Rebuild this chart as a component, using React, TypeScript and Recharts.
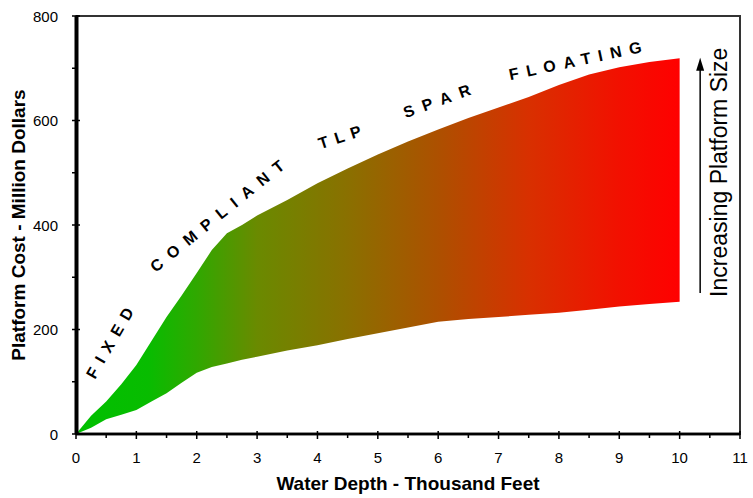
import { Area, AreaChart, Label, ReferenceArea, ReferenceDot, ReferenceLine, XAxis, YAxis } from 'recharts';

const depth = [0, 0.25, 0.5, 0.75, 1, 1.25, 1.5, 1.75, 2, 2.25, 2.5, 2.75, 3, 3.5, 4, 4.5, 5, 5.5, 6, 6.5, 7, 7.5, 8, 8.5, 9, 9.5, 10];
const highCost = [0, 35, 62, 95, 132, 178, 224, 265, 308, 352, 384, 400, 418, 448, 480, 508, 535, 560, 583, 605, 625, 645, 668, 688, 702, 712, 719];
const lowCost = [0, 12, 28, 37, 46, 62, 78, 98, 117, 128, 135, 142, 148, 160, 170, 182, 193, 204, 215, 220, 224, 228, 232, 238, 244, 249, 253];

const xTicks = [0, 0.5, 1, 1.5, 2, 2.5, 3, 3.5, 4, 4.5, 5, 5.5, 6, 6.5, 7, 7.5, 8, 8.5, 9, 9.5, 10, 10.5, 11];
const yTicks = [0, 100, 200, 300, 400, 500, 600, 700, 800];

// platform types written along the top of the band
const stageNames = ['FIXED', 'COMPLIANT', 'TLP', 'SPAR', 'FLOATING'];
const stageDepth = [0.56, 2.34, 4.37, 5.98, 8.27];
const stageCost = [174, 417, 568, 637, 714];
const stageAngle = [-60, -39, -18, -20, -12];
const stageSpacing = [7.9, 9, 6.9, 9, 7.8];

const data = depth.map((d, i) => ({ depth: d, range: [lowCost[i], highCost[i]] }));

const font = '"Liberation Sans", Arial, Helvetica, sans-serif';

// ticks drawn as small filled bars; majors cross the axis line
function XTick({ x, y, payload }: any) {
  const v = payload.value;
  const major = Number.isInteger(v);
  return (
    <g>
      <rect x={x - 0.75} y={major ? y - 3 : y} width={1.5} height={major ? 8 : 4} fill="#000" />
      {major && (
        <text x={x} y={y + 29} textAnchor="middle" fontSize={15} fontFamily={font} fill="#000">
          {v}
        </text>
      )}
    </g>
  );
}

function YTick({ x, y, payload }: any) {
  const v = payload.value;
  const major = v % 200 === 0;
  return (
    <g>
      <rect x={x - 4} y={y - 0.75} width={major ? 8 : 4} height={1.5} fill="#000" />
      {major && (
        <text x={x - 18} y={y + 5.5} textAnchor="end" fontSize={15} fontFamily={font} fill="#000">
          {v}
        </text>
      )}
    </g>
  );
}

// plot frame: heavy axes left/bottom, thinner border top/right
function Frame({ x, y, width, height }: any) {
  return (
    <g>
      <rect x={x} y={y - 1} width={width + 1} height={2} fill="#333" />
      <rect x={x + width - 1} y={y - 1} width={2} height={height + 2} fill="#333" />
      <rect x={x} y={y + height - 1.25} width={width} height={2.5} fill="#000" />
      <rect x={x - 0.5} y={y - 1} width={3} height={height + 2} fill="#000" />
    </g>
  );
}

export default function App() {
  return (
    <div style={{ position: 'absolute', top: 0, left: 0, width: 753, height: 498, background: '#fff' }}>
      <AreaChart width={753} height={498} data={data} margin={{ top: 16, right: 13, bottom: 0, left: 0 }}>
        <defs>
          <linearGradient id="depthFill" x1="0" y1="0" x2="1" y2="0">
            <stop offset="0%" stopColor="#00c000" />
            <stop offset="12%" stopColor="#08bc00" />
            <stop offset="20%" stopColor="#30a800" />
            <stop offset="30%" stopColor="#6a8a00" />
            <stop offset="45%" stopColor="#8a7000" />
            <stop offset="60%" stopColor="#ad5000" />
            <stop offset="75%" stopColor="#d83000" />
            <stop offset="90%" stopColor="#f21000" />
            <stop offset="100%" stopColor="#ff0000" />
          </linearGradient>
        </defs>
        <XAxis
          dataKey="depth"
          type="number"
          domain={[0, 11]}
          ticks={xTicks}
          interval={0}
          tickSize={0}
          tickMargin={0}
          tickLine={false}
          tick={<XTick />}
          axisLine={{ stroke: '#000', strokeWidth: 2.5 }}
          height={64}
        >
          <Label
            content={({ viewBox }: any) => (
              <text
                x={viewBox.x + viewBox.width / 2}
                y={viewBox.y + 56}
                textAnchor="middle"
                fontSize={19}
                fontWeight="bold"
                fontFamily={font}
                fill="#000"
              >
                Water Depth - Thousand Feet
              </text>
            )}
          />
        </XAxis>
        <YAxis
          type="number"
          domain={[0, 800]}
          ticks={yTicks}
          interval={0}
          tickSize={0}
          tickMargin={0}
          tickLine={false}
          tick={<YTick />}
          axisLine={{ stroke: '#000', strokeWidth: 3 }}
          width={76}
        >
          <Label
            content={({ viewBox }: any) => {
              const cx = viewBox.x + 25;
              const cy = viewBox.y + viewBox.height / 2;
              return (
                <text
                  x={cx}
                  y={cy}
                  transform={`rotate(-90 ${cx} ${cy})`}
                  textAnchor="middle"
                  fontSize={19}
                  fontWeight="bold"
                  fontFamily={font}
                  fill="#000"
                >
                  Platform Cost - Million Dollars
                </text>
              );
            }}
          />
        </YAxis>
        <Area
          dataKey="range"
          type="linear"
          fill="url(#depthFill)"
          fillOpacity={1}
          stroke="none"
          isAnimationActive={false}
        />
        <ReferenceArea x1={0} x2={11} y1={0} y2={800} shape={(p: any) => <Frame {...p} />} />
        {stageNames.map((name, i) => (
          <ReferenceDot
            key={name}
            x={stageDepth[i]}
            y={stageCost[i]}
            shape={(p: any) => (
              <text
                x={p.cx}
                y={p.cy}
                dx={stageSpacing[i] / 2}
                transform={`rotate(${stageAngle[i]} ${p.cx} ${p.cy})`}
                textAnchor="middle"
                dominantBaseline="central"
                fontSize={16}
                fontWeight="bold"
                fontFamily={font}
                letterSpacing={stageSpacing[i]}
                fill="#000"
              >
                {name}
              </text>
            )}
          />
        ))}
        <ReferenceLine
          segment={[
            { x: 10.34, y: 270 },
            { x: 10.34, y: 700 },
          ]}
          stroke="#000"
          strokeWidth={1.5}
        />
        <ReferenceDot
          x={10.34}
          y={720}
          shape={(p: any) => (
            <path d={`M${p.cx},${p.cy} L${p.cx - 4},${p.cy + 13} L${p.cx + 4},${p.cy + 13} Z`} fill="#000" />
          )}
        />
        <ReferenceDot
          x={10.79}
          y={501}
          shape={(p: any) => (
            <text
              x={p.cx}
              y={p.cy}
              transform={`rotate(-90 ${p.cx} ${p.cy})`}
              textAnchor="middle"
              fontSize={23}
              fontFamily={font}
              fill="#000"
            >
              Increasing Platform Size
            </text>
          )}
        />
      </AreaChart>
    </div>
  );
}
